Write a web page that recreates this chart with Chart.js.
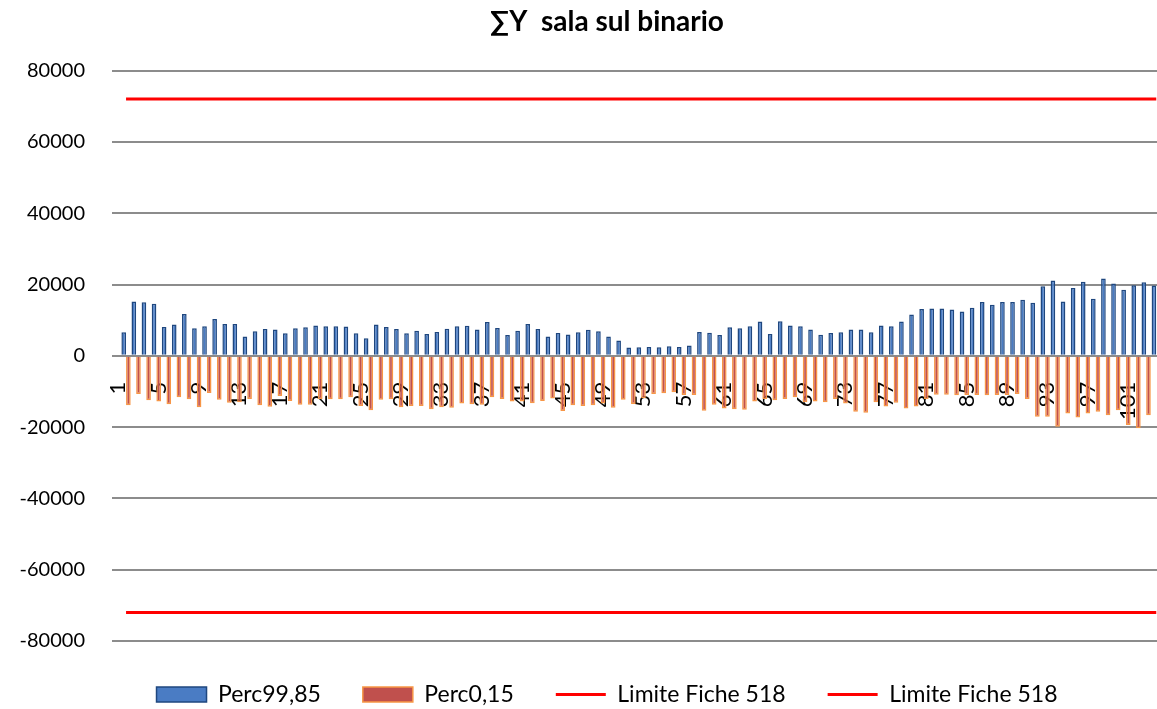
<!DOCTYPE html>
<html>
<head>
<meta charset="utf-8">
<script src="https://cdn.jsdelivr.net/npm/chart.js@4.4.1/dist/chart.umd.min.js"></script>
<style>
  html, body { margin: 0; padding: 0; overflow: hidden; background: #fff; }
  #box { width: 1214px; height: 716px; }
</style>
</head>
<body>
<div id="box"><canvas id="myChart" width="1214" height="716"></canvas></div>
<script>
// categorie 1..103 (il grafico originale e' tagliato a destra)
const categorie = Array.from({length: 103}, (_, i) => String(i + 1));

const perc9985 = [
  6600, 15200, 15000, 14600, 8100, 8800, 11700, 7700, 8300, 10300,
  8900, 8900, 5400, 6900, 7500, 7400, 6300, 7700, 8000, 8500,
  8300, 8300, 8200, 6300, 4900, 8800, 8100, 7500, 6300, 7000,
  6100, 6700, 7600, 8300, 8400, 7400, 9500, 7800, 5800, 7000,
  8900, 7500, 5400, 6400, 6000, 6600, 7300, 6900, 5400, 4300,
  2300, 2400, 2500, 2400, 2700, 2500, 2900, 6700, 6500, 5800,
  8000, 7700, 8300, 9600, 6100, 9700, 8500, 8300, 7400, 5900,
  6400, 6600, 7400, 7400, 6600, 8500, 8300, 9600, 11600, 13100,
  13300, 13300, 13000, 12400, 13500, 15100, 14300, 15100, 15100, 15700,
  14900, 19500, 21100, 15200, 19000, 20800, 16000, 21700, 20300, 18500,
  19800, 20600, 19700
];

const perc015 = [
  -13900, -10700, -12500, -12800, -13600, -11600, -12200, -14400, -10400, -12300,
  -13200, -13000, -12100, -13900, -14300, -11300, -12700, -13700, -13700, -12200,
  -12200, -12200, -11600, -14100, -15300, -12300, -12200, -14400, -14100, -14100,
  -15000, -14400, -14600, -13400, -13600, -13700, -11600, -12100, -12800, -12800,
  -13300, -12700, -12000, -15500, -13900, -14100, -13900, -13400, -14600, -12300,
  -13500, -11900, -10700, -10500, -10200, -11000, -11000, -15400, -13700, -14800,
  -15000, -15100, -12800, -12100, -12500, -12100, -11600, -13000, -12800, -13000,
  -12100, -13400, -15700, -16000, -13000, -14200, -13200, -14800, -14200, -12100,
  -10900, -10900, -11100, -11000, -11000, -11100, -11000, -11000, -10700, -12100,
  -17100, -17100, -19900, -16200, -17300, -16200, -15700, -16700, -15300, -19400,
  -20300, -16700, null
];

const limiteSup = 72000;
const limiteInf = -72000;

const yMin = -80000;
const yMax = 80000;
const yPasso = 20000;

const font = "Lato";

new Chart("myChart", {
  data: {
    labels: categorie,
    datasets: [
      {
        type: "bar", label: "Perc99,85", data: perc9985,
        backgroundColor: "#4A7CC4", borderColor: "#1F477F", borderWidth: 1.5,
        categoryPercentage: 0.92, barPercentage: 1.0, pointStyle: "rect"
      },
      {
        type: "bar", label: "Perc0,15", data: perc015,
        backgroundColor: "#C0504D", borderColor: "#F79646", borderWidth: 1.5,
        categoryPercentage: 0.92, barPercentage: 1.0, pointStyle: "rect"
      },
      {
        type: "line", label: "Limite Fiche 518", data: categorie.map(() => limiteSup),
        borderColor: "#FF0000", backgroundColor: "#FF0000", borderWidth: 3,
        pointRadius: 0, pointStyle: "line"
      },
      {
        type: "line", label: "Limite Fiche 518", data: categorie.map(() => limiteInf),
        borderColor: "#FF0000", backgroundColor: "#FF0000", borderWidth: 3,
        pointRadius: 0, pointStyle: "line"
      }
    ]
  },
  options: {
    responsive: false,
    animation: false,
    layout: { padding: 0 },
    plugins: {
      tooltip: { enabled: false },
      title: {
        display: true,
        text: "∑Y  sala sul binario",
        color: "#000",
        font: { family: font, size: 28, weight: "bold" },
        padding: { top: 5, bottom: 32 }
      },
      legend: {
        position: "bottom",
        labels: {
          usePointStyle: true,
          pointStyleWidth: 50,
          boxHeight: 15,
          padding: 42,
          color: "#000",
          font: { family: font, size: 23 }
        }
      }
    },
    scales: {
      x: {
        type: "category",
        position: { y: 0 },
        offset: true,
        grid: { display: false, drawTicks: false },
        border: { display: false },
        ticks: {
          autoSkip: false,
          minRotation: 90,
          maxRotation: 90,
          padding: 26,
          labelOffset: -8,
          color: "#000",
          font: { family: font, size: 22 },
          callback: (v, i) => (i % 4 === 0 ? categorie[i] : "")
        }
      },
      y: {
        position: "left",
        min: yMin,
        max: yMax,
        grid: { color: "#8C8C8C", lineWidth: 2, drawTicks: true, tickLength: 9 },
        border: { display: false },
        ticks: {
          stepSize: yPasso,
          padding: 27,
          color: "#000",
          font: { family: font, size: 20 },
          callback: v => String(v)
        },
        afterFit: s => { s.width = 121; }
      },
      destra: {
        type: "linear",
        position: "right",
        grid: { display: false },
        border: { display: false },
        ticks: { display: false },
        afterFit: s => { s.width = 1214 - 1161.3; }
      }
    }
  }
});
</script>
</body>
</html>
